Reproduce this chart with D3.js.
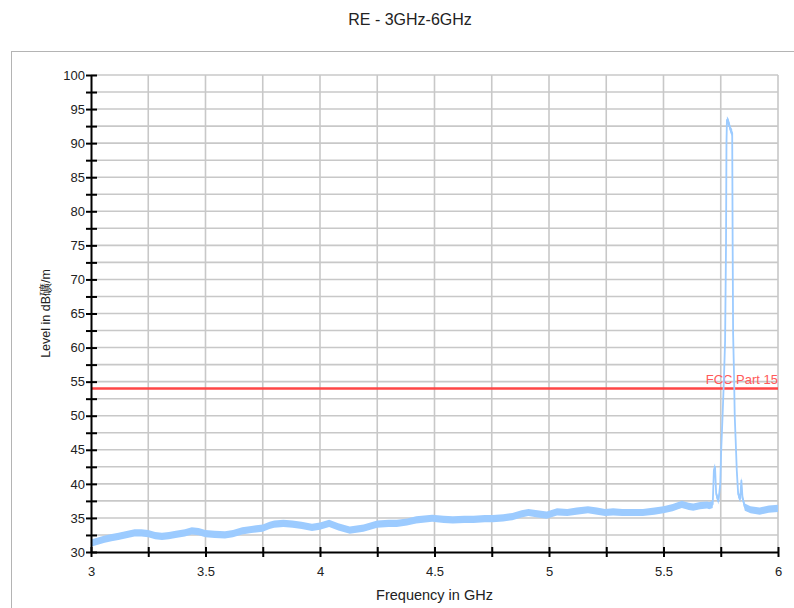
<!DOCTYPE html>
<html><head><meta charset="utf-8">
<script src="https://cdn.jsdelivr.net/npm/d3@7"></script>
<style>body{margin:0;background:#fff}svg{display:block;font-family:"Liberation Sans",Arial,sans-serif}</style>
</head><body><svg id="c" width="794" height="608"></svg>
<script>
const chartTitle = "RE - 3GHz-6GHz";
const xTitle = "Frequency in GHz";
const yTitle = "Level in dB礦/m";
const freqGHz = [3.00,3.03,3.06,3.09,3.12,3.16,3.19,3.22,3.25,3.28,3.31,3.34,3.37,3.41,3.44,3.47,3.50,3.54,3.585,3.62,3.66,3.70,3.75,3.78,3.80,3.84,3.88,3.92,3.965,4.00,4.04,4.08,4.13,4.19,4.25,4.30,4.335,4.38,4.42,4.49,4.54,4.58,4.63,4.67,4.72,4.755,4.80,4.84,4.88,4.91,4.95,4.99,5.035,5.08,5.12,5.17,5.21,5.245,5.28,5.32,5.36,5.41,5.46,5.50,5.54,5.58,5.61,5.63,5.66,5.69,5.70,5.715,5.72,5.725,5.73,5.74,5.748,5.752,5.758,5.764,5.769,5.773,5.775,5.777,5.785,5.792,5.80,5.802,5.804,5.808,5.811,5.815,5.82,5.826,5.835,5.84,5.845,5.855,5.88,5.92,5.96,6.00];
const levelDb = [31.3,31.6,31.9,32.1,32.3,32.6,32.8,32.8,32.7,32.4,32.3,32.4,32.6,32.8,33.1,33.0,32.7,32.6,32.5,32.7,33.1,33.3,33.5,33.9,34.1,34.2,34.1,33.9,33.6,33.8,34.2,33.7,33.2,33.5,34.1,34.2,34.2,34.4,34.7,34.95,34.8,34.7,34.8,34.8,34.9,34.9,35.0,35.2,35.6,35.8,35.6,35.4,35.9,35.8,36.0,36.2,36.0,35.8,35.9,35.8,35.8,35.8,36.0,36.2,36.5,37.0,36.7,36.6,36.8,36.9,36.8,37.0,42.0,42.5,38.5,37.5,40.0,45.0,50.0,55.5,61.0,75.0,90.0,93.4,93.0,92.0,91.5,75.0,62.0,56.0,50.0,46.5,42.0,38.5,37.8,40.5,38.0,36.6,36.2,36.0,36.3,36.4];
const limitValue = 54;
const limitLabel = "FCC Part 15";
const xMajorTicks = [3,3.5,4,4.5,5,5.5,6];
const xAllTicks = [3,3.25,3.5,3.75,4,4.25,4.5,4.75,5,5.25,5.5,5.75,6];
const yMajorTicks = [30,35,40,45,50,55,60,65,70,75,80,85,90,95,100];
const yAllTicks = [30,32.5,35,37.5,40,42.5,45,47.5,50,52.5,55,57.5,60,62.5,65,67.5,70,72.5,75,77.5,80,82.5,85,87.5,90,92.5,95,97.5,100];

const svg = d3.select("#c");
const x = d3.scaleLinear().domain([3,6]).range([91,778]);
const y = d3.scaleLinear().domain([30,100]).range([552,75]);

// outer frame
svg.append("rect").attr("x",11.5).attr("y",51.5).attr("width",900).attr("height",700)
  .attr("fill","none").attr("stroke","#b4b4b4").attr("stroke-width",1);

svg.append("text").attr("x",410).attr("y",25).attr("text-anchor","middle")
  .attr("font-size",16).attr("fill","#222").text(chartTitle);

// grid
svg.append("g").selectAll("line").data(xAllTicks.filter(d=>d>3)).join("line")
  .attr("x1",d=>x(d)).attr("x2",d=>x(d)).attr("y1",y(100)).attr("y2",y(30))
  .attr("stroke","#c8c8c8").attr("stroke-width",1.6);
svg.append("g").selectAll("line").data(yAllTicks.filter(d=>d>30)).join("line")
  .attr("x1",x(3)).attr("x2",x(6)).attr("y1",d=>y(d)).attr("y2",d=>y(d))
  .attr("stroke","#c8c8c8").attr("stroke-width",1.6);

// limit line
svg.append("line").attr("x1",x(3)).attr("x2",x(6)).attr("y1",y(limitValue)).attr("y2",y(limitValue))
  .attr("stroke","#ff4646").attr("stroke-width",2.6);
svg.append("text").attr("x",x(6)).attr("y",y(limitValue)-4).attr("text-anchor","end")
  .attr("font-size",13).attr("fill","#ff5a5a").text(limitLabel);

// trace
const pts = freqGHz.map((f,i)=>[f,levelDb[i]]);
svg.append("path").datum(pts)
  .attr("d", d3.area().x(d=>x(d[0])).y0(d=>y(d[1])+3.6).y1(d=>y(d[1])-3.6))
  .attr("fill","#9ccbff");
svg.append("path").datum(pts)
  .attr("d", d3.line().x(d=>x(d[0])).y(d=>y(d[1])))
  .attr("fill","none").attr("stroke","#9ccbff").attr("stroke-width",1.8).attr("stroke-linejoin","round");

// axes
const yAxis = svg.append("g").attr("transform",`translate(${x(3)},0)`)
  .call(d3.axisLeft(y).tickValues(yAllTicks).tickSizeInner(5).tickSizeOuter(0).tickPadding(1)
    .tickFormat(d=>yMajorTicks.includes(d)?d:""));
yAxis.select(".domain").attr("stroke","#000").attr("stroke-width",2);
yAxis.selectAll(".tick line").attr("x1",6).attr("x2",-5).attr("stroke","#000").attr("stroke-width",2);
yAxis.selectAll(".tick text").attr("font-size",13).attr("fill","#222").attr("font-family","Liberation Sans, Arial, sans-serif");

const xAxis = svg.append("g").attr("transform",`translate(0,${y(30)})`)
  .call(d3.axisBottom(x).tickValues(xAllTicks).tickSizeInner(5).tickSizeOuter(0).tickPadding(10)
    .tickFormat(d=>xMajorTicks.includes(d)?d:""));
xAxis.select(".domain").attr("stroke","#000").attr("stroke-width",2);
xAxis.selectAll(".tick line").attr("y1",-5).attr("y2",5).attr("stroke","#000").attr("stroke-width",2);
xAxis.selectAll(".tick text").attr("font-size",13).attr("fill","#222").attr("font-family","Liberation Sans, Arial, sans-serif");

svg.append("text").attr("x",(x(3)+x(6))/2).attr("y",600).attr("text-anchor","middle")
  .attr("font-size",14.5).attr("fill","#222").text(xTitle);
svg.append("text").attr("transform",`translate(50,${(y(30)+y(100))/2}) rotate(-90)`)
  .attr("text-anchor","middle").attr("font-size",12.5).attr("fill","#222").text(yTitle);
</script></body></html>
